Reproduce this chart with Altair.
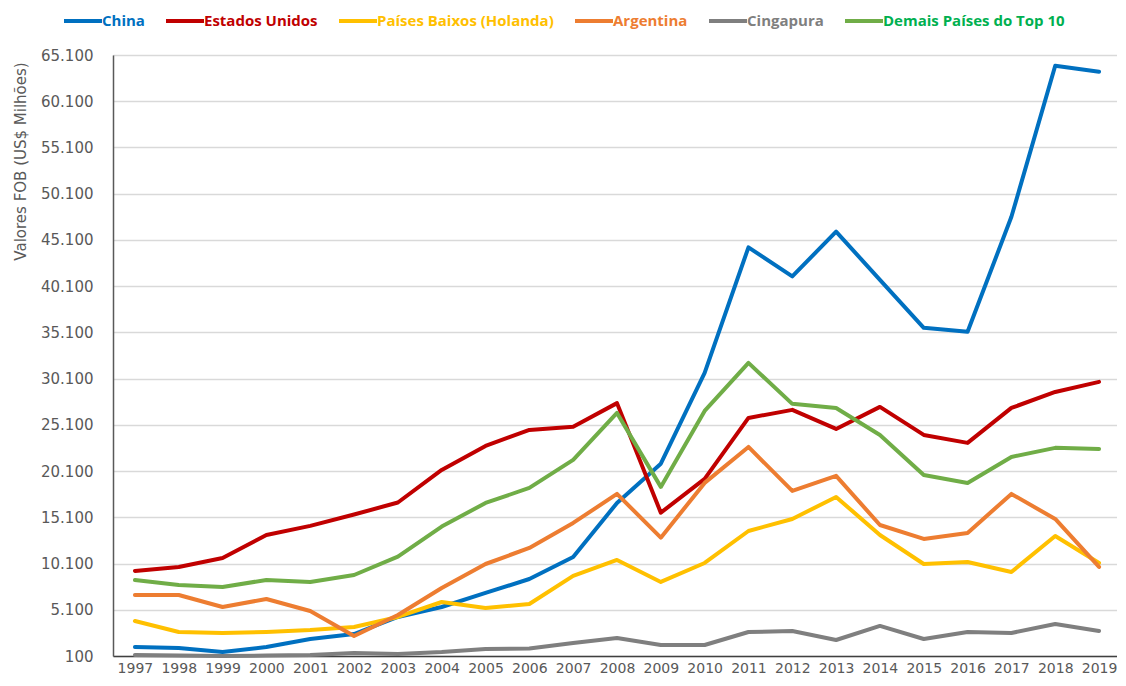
import altair as alt
import pandas as pd

years = list(range(1997, 2020))
series_names = ["China", "Estados Unidos", "Países Baixos (Holanda)", "Argentina",
                "Cingapura", "Demais Países do Top 10"]

china = [1070, 970, 530, 1070, 1940, 2480, 4320, 5400, 6920, 8430, 10810, 16650,
         20900, 30720, 44300, 41150, 46000, 40780, 35590, 35160, 47600, 63940, 63300]
estados_unidos = [9300, 9730, 10700, 13190, 14170, 15400, 16700, 20220, 22820, 24550,
                  24900, 27450, 15600, 19250, 25850, 26720, 24660, 27040, 24010, 23150,
                  26930, 28660, 29750]
paises_baixos = [3890, 2700, 2590, 2700, 2910, 3240, 4320, 5940, 5290, 5730, 8760,
                 10490, 8110, 10160, 13620, 14920, 17300, 13190, 10050, 10270, 9190,
                 13080, 10160]
argentina = [6700, 6700, 5400, 6270, 4970, 2260, 4540, 7460, 10050, 11790, 14490,
             17630, 12900, 18820, 22710, 17950, 19580, 14270, 12760, 13410, 17630,
             14920, 9730]
cingapura = [200, 150, 100, 150, 200, 420, 320, 530, 860, 900, 1510, 2050, 1290,
             1290, 2700, 2800, 1830, 3350, 1940, 2700, 2590, 3560, 2800]
demais = [8320, 7780, 7570, 8320, 8110, 8860, 10850, 14100, 16650, 18280, 21310,
          26390, 18390, 26610, 31800, 27370, 26930, 24010, 19680, 18820, 21630,
          22610, 22500]

line_colors = ["#0070C0", "#C00000", "#FFC000", "#ED7D31", "#7F7F7F", "#70AD47"]
label_colors = ["#0070C0", "#C00000", "#FFC000", "#ED7D31", "#7F7F7F", "#00B050"]
line_widths = [4, 4, 4, 4, 2.5, 4]
y_ticks = [100, 5100, 10100, 15100, 20100, 25100, 30100, 35100, 40100, 45100,
           50100, 55100, 60100, 65100]

values = [china, estados_unidos, paises_baixos, argentina, cingapura, demais]
rows = []
for name, vals in zip(series_names, values):
    for yr, v in zip(years, vals):
        rows.append({"year": str(yr), "series": name, "value": v})
df = pd.DataFrame(rows)

names_js = "[" + ",".join("'" + n + "'" for n in series_names) + "]"
colors_js = "[" + ",".join("'" + c + "'" for c in label_colors) + "]"
label_color_expr = colors_js + "[indexof(" + names_js + ", datum.label)]"
sym_width_expr = "datum.label == 'Cingapura' ? 2.5 : 4"

chart = alt.Chart(df).mark_line(strokeJoin="round", strokeCap="round").encode(
    x=alt.X("year:O", title=None,
            scale=alt.Scale(type="point", padding=0.455, align=0.55),
            axis=alt.Axis(labelAngle=0, ticks=False, grid=False, domainColor="#404040",
                          domainWidth=1.5, labelFont="DejaVu Sans", labelFontSize=14,
                          labelColor="#595959", labelPadding=5)),
    y=alt.Y("value:Q",
            scale=alt.Scale(domain=[100, 65100], nice=False, zero=False),
            axis=alt.Axis(values=y_ticks, ticks=False, grid=True, gridColor="#D9D9D9",
                          gridWidth=1.3, domainColor="#595959", domainWidth=1.5,
                          labelExpr="replace(format(datum.value, ','), ',', '.')",
                          labelFont="DejaVu Sans", labelFontSize=15, labelColor="#595959",
                          labelPadding=20,
                          title="Valores FOB (US$ Milhões)", titleFont="DejaVu Sans",
                          titleFontSize=15, titleFontWeight="normal", titleColor="#595959",
                          titleAngle=270, titleX=-93, titleY=106, titleAlign="center",
                          titleBaseline="middle")),
    color=alt.Color("series:N", sort=series_names,
                    scale=alt.Scale(domain=series_names, range=line_colors),
                    legend=alt.Legend(orient="none", legendX=-51, legendY=-55,
                                      direction="horizontal", columns=6, title=None,
                                      symbolType="stroke", symbolSize=1444,
                                      symbolStrokeWidth={"expr": sym_width_expr},
                                      labelFont="Open Sans", labelFontWeight="bold",
                                      labelFontSize=15, labelOffset={"expr": "-2"},
                                      columnPadding=13,
                                      labelColor={"expr": label_color_expr}, padding=0,
                                      labelLimit=400)),
    strokeWidth=alt.StrokeWidth("series:N", sort=series_names,
                                scale=alt.Scale(domain=series_names, range=line_widths),
                                legend=None),
).properties(
    width=1004, height=601,
    autosize=alt.AutoSizeParams(type="none"),
    padding={"left": 105, "top": 47, "right": 0, "bottom": 22},
).configure_view(stroke=None).configure(background="white")

chart.save("out.html", embed_options={"renderer": "svg", "actions": False})
